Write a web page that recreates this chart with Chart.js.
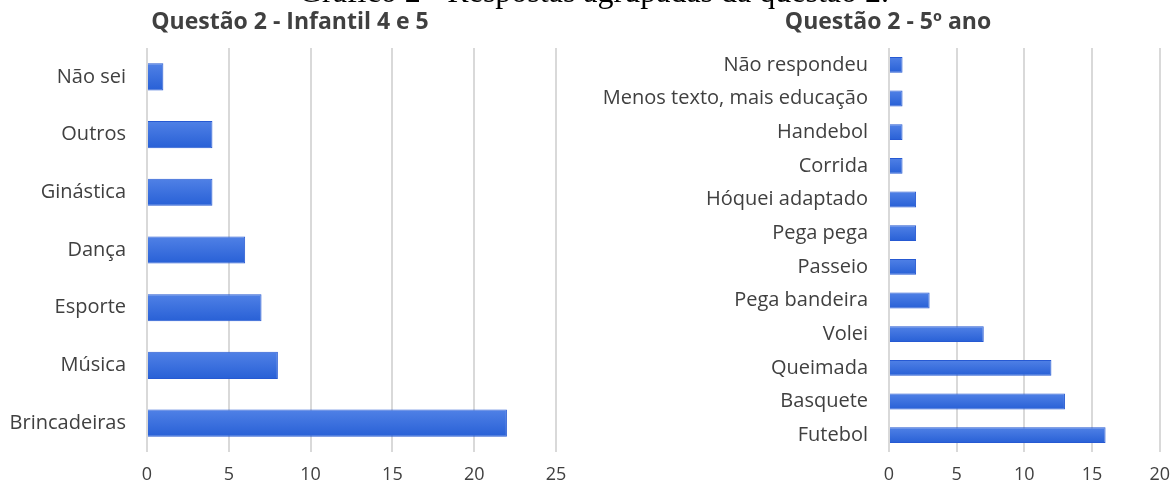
<!DOCTYPE html>
<html lang="pt">
<head>
<meta charset="utf-8">
<script src="https://cdn.jsdelivr.net/npm/chart.js@4/dist/chart.umd.min.js"></script>
<style>
  body { margin: 0; background: #fff; width: 1174px; height: 484px; overflow: hidden; position: relative; }
  #mainTitle {
    position: absolute; top: -25px; left: 594px; transform: translateX(-50%);
    font: 32px "Liberation Serif", "Times New Roman", serif; line-height: 32px;
    white-space: nowrap; color: #000; z-index: 2;
  }
  .chartTitle {
    position: absolute; top: 6px; transform: translateX(-50%);
    font: bold 23px "Open Sans", "Segoe UI", sans-serif; line-height: 28px;
    white-space: nowrap; color: #404040; z-index: 2;
  }
  canvas { position: absolute; top: 0; }
  #infantilChart { left: 0; }
  #quintoChart { left: 594px; }
</style>
</head>
<body>
<div id="mainTitle">Gráfico 2 - Respostas agrupadas da questão 2.</div>
<div class="chartTitle" style="left: 290px">Questão 2 - Infantil 4 e 5</div>
<div class="chartTitle" style="left: 888px">Questão 2 - 5º ano</div>
<canvas id="infantilChart" width="580" height="484"></canvas>
<canvas id="quintoChart" width="588" height="484"></canvas>
<script>
const infantilLabels = ['Não sei', 'Outros', 'Ginástica', 'Dança', 'Esporte', 'Música', 'Brincadeiras']
const infantilValues = [1, 4, 4, 6, 7, 8, 22]

const quintoLabels = [
  'Não respondeu', 'Menos texto, mais educação', 'Handebol', 'Corrida',
  'Hóquei adaptado', 'Pega pega', 'Passeio', 'Pega bandeira',
  'Volei', 'Queimada', 'Basquete', 'Futebol'
]
const quintoValues = [1, 1, 1, 1, 2, 2, 2, 3, 7, 12, 13, 16]

const fontFamily = '"Open Sans", "Segoe UI", sans-serif'
const barPct = 0.47

// light-to-dark fill across the bar thickness, like the original
function barGradient(context) {
  const chart = context.chart
  const yScale = chart.scales.y
  if (!chart.chartArea || !yScale || context.dataIndex === undefined) {
    return '#3d70df'
  }
  const center = yScale.getPixelForValue(context.dataIndex)
  const half = (chart.chartArea.height / yScale.ticks.length) * barPct / 2
  const g = chart.ctx.createLinearGradient(0, center - half, 0, center + half)
  g.addColorStop(0, '#5081e6')
  g.addColorStop(1, '#2860d6')
  return g
}

function makeChart(id, labels, values, axisMax, yWidth, padRight) {
  const canvas = document.getElementById(id)
  return new Chart(canvas, {
    type: 'bar',
    data: {
      labels: labels,
      datasets: [{
        data: values,
        backgroundColor: barGradient,
        borderColor: '#2659d2',
        borderWidth: 1,
        categoryPercentage: 1,
        barPercentage: barPct
      }]
    },
    options: {
      indexAxis: 'y',
      responsive: false,
      animation: false,
      layout: {
        padding: { left: 0, right: padRight, top: 48, bottom: 0 }
      },
      plugins: {
        legend: { display: false },
        tooltip: { enabled: false }
      },
      scales: {
        y: {
          type: 'category',
          grid: { display: false },
          border: { display: false },
          ticks: {
            color: '#404040',
            font: { family: fontFamily, size: 20 },
            padding: 13
          },
          afterFit: (scale) => { scale.width = yWidth }
        },
        x: {
          min: 0,
          max: axisMax,
          grid: { color: '#d9d9d9', lineWidth: 2, drawTicks: false },
          border: { display: false },
          ticks: {
            stepSize: 5,
            color: '#404040',
            font: { family: fontFamily, size: 18 },
            padding: 12
          },
          afterFit: (scale) => { scale.height = 32 }
        }
      }
    }
  })
}

makeChart('infantilChart', infantilLabels, infantilValues, 25, 147, 24)
makeChart('quintoChart', quintoLabels, quintoValues, 20, 295, 22)
</script>
</body>
</html>
